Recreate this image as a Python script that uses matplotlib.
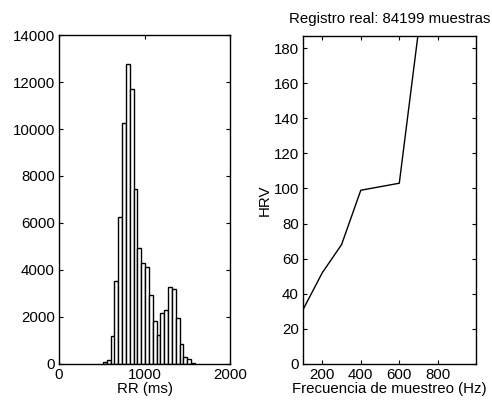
import numpy as np
import matplotlib
matplotlib.use('Agg')
import matplotlib.pyplot as plt

plt.rcParams['font.family'] = ['Liberation Sans', 'DejaVu Sans']
plt.rcParams['font.size'] = 10.8

# histogram of RR intervals (bin centres in ms, counts)
rr_centres = [536, 581, 626, 670, 715, 760, 804, 849, 894, 938, 983, 1028,
              1072, 1117, 1162, 1206, 1251, 1296, 1340, 1385, 1430, 1474, 1519, 1564]
rr_counts = [100, 170, 1200, 3540, 6240, 10240, 12770, 11710, 7440, 4950, 4300, 4130,
             2920, 1820, 1250, 2160, 2280, 3280, 3170, 1940, 860, 300, 200, 50]
rr_width = 44.6

# HRV vs sampling frequency
freq = [100, 200, 300, 400, 500, 600, 700]
hrv = [31, 52, 68, 99, 101, 103, 190]

fig = plt.figure(figsize=(4.92, 4.03), dpi=100)

ax1 = fig.add_axes([0.120, 0.097, 0.348, 0.816])
ax1.bar(rr_centres, rr_counts, width=rr_width, color='white', edgecolor='black', linewidth=1.0)
ax1.set_xlim(0, 2000)
ax1.set_ylim(0, 14000)
ax1.set_xticks([0, 1000, 2000])
ax1.set_yticks(range(0, 14001, 2000))
ax1.set_xlabel('RR (ms)', labelpad=0)

ax2 = fig.add_axes([0.616, 0.097, 0.352, 0.814])
ax2.plot(freq, hrv, color='black', linewidth=1.0)
ax2.set_xlim(100, 1000)
ax2.set_ylim(0, 187)
ax2.set_xticks([200, 400, 600, 800])
ax2.set_yticks(range(0, 181, 20))
ax2.set_xlabel('Frecuencia de muestreo (Hz)', labelpad=0)
ax2.set_ylabel('HRV', labelpad=1)
ax2.set_title('Registro real: 84199 muestras', fontsize=10.8, pad=9)

for ax in (ax1, ax2):
    ax.tick_params(direction='in', top=True, right=True, length=3, width=0.8, pad=3)
    for s in ax.spines.values():
        s.set_linewidth(1.0)

fig.savefig('out.png', dpi=100)
